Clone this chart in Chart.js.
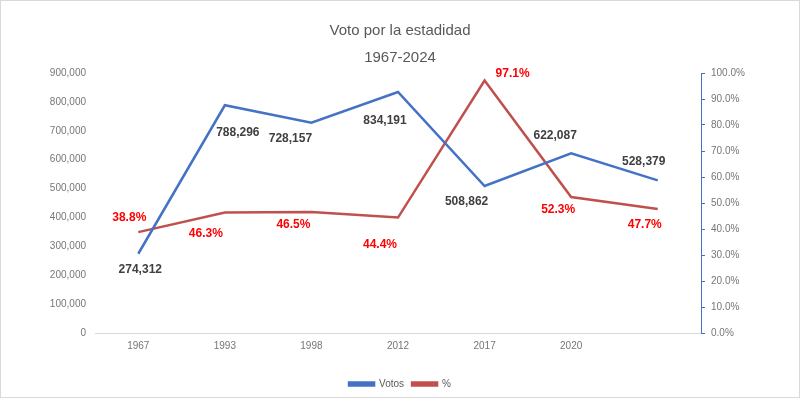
<!DOCTYPE html>
<html>
<head>
<meta charset="utf-8">
<script src="https://cdn.jsdelivr.net/npm/chart.js@4.4.1/dist/chart.umd.min.js"></script>
<style>
  html, body { margin: 0; padding: 0; background: #fff; }
  #wrap { width: 800px; height: 400px; position: relative; }
</style>
</head>
<body>
<div id="wrap"><canvas id="grafica" width="800" height="400"></canvas></div>
<script>
// datos
const anios = ['1967', '1993', '1998', '2012', '2017', '2020', ''];
const votos = [274312, 788296, 728157, 834191, 508862, 622087, 528379];
const porcentaje = [38.8, 46.3, 46.5, 44.4, 97.1, 52.3, 47.7];
const ticksVotos = [0, 900000, 100000];   // min, max, paso
const ticksPct = [0, 100, 10];

// desplazamiento de etiquetas (px) respecto al punto
const offVotos = [[2, 16], [13, 27], [-21, 16], [-13, 29], [-18, 16], [-16, -18], [-14, -19]];
const offPct = [[-9, -14], [-19, 21], [-18, 13], [-18, 27], [28, -7], [-13, 13], [-13, 16]];

const AZUL = '#4472C4';
const ROJO = '#C0504D';
const GRIS = '#595959';
const GRIS_EJE = '#767676';
const FUENTE = "'Liberation Sans', Arial, sans-serif";

function fmtMiles(v) {
  return String(v).replace(/\B(?=(\d{3})+(?!\d))/g, ',');
}

// etiquetas de datos
const etiquetas = {
  id: 'etiquetas',
  afterDatasetsDraw(chart) {
    const ctx = chart.ctx;
    ctx.save();
    ctx.font = 'bold 12px ' + FUENTE;
    ctx.textAlign = 'center';
    ctx.textBaseline = 'middle';
    chart.data.datasets.forEach((ds, i) => {
      const meta = chart.getDatasetMeta(i);
      const offs = i === 0 ? offVotos : offPct;
      ctx.fillStyle = i === 0 ? '#404040' : '#FF0000';
      meta.data.forEach((pt, j) => {
        const txt = i === 0 ? fmtMiles(ds.data[j]) : ds.data[j].toFixed(1) + '%';
        ctx.fillText(txt, pt.x + offs[j][0], pt.y + offs[j][1]);
      });
    });
    ctx.restore();
  }
};

// marco gris alrededor
const marco = {
  id: 'marco',
  afterDraw(chart) {
    const ctx = chart.ctx;
    ctx.save();
    ctx.strokeStyle = '#D9D9D9';
    ctx.lineWidth = 1;
    ctx.strokeRect(0.5, 0.5, chart.width - 1, chart.height - 3);
    ctx.restore();
  }
};

new Chart(document.getElementById('grafica').getContext('2d'), {
  type: 'line',
  data: {
    labels: anios,
    datasets: [
      { label: 'Votos', data: votos, yAxisID: 'y', borderColor: AZUL, backgroundColor: AZUL,
        borderWidth: 2.5, pointRadius: 0, tension: 0 },
      { label: '%', data: porcentaje, yAxisID: 'y1', borderColor: ROJO, backgroundColor: ROJO,
        borderWidth: 2.5, pointRadius: 0, tension: 0 }
    ]
  },
  options: {
    responsive: false,
    animation: false,
    layout: { padding: { top: 0, bottom: 1, left: 0, right: 0 } },
    plugins: {
      title: {
        display: true,
        text: ['Voto por la estadidad', '1967-2024'],
        color: GRIS,
        font: { family: FUENTE, size: 15, weight: 'normal', lineHeight: 1.8 },
        padding: { top: 17, bottom: 2 }
      },
      legend: {
        position: 'bottom',
        labels: {
          color: GRIS,
          font: { family: FUENTE, size: 10 },
          boxWidth: 25,
          boxHeight: 3,
          padding: 8
        }
      },
      tooltip: { enabled: false }
    },
    scales: {
      x: {
        offset: true,
        grid: { display: false, drawTicks: false },
        border: { display: true, color: '#D9D9D9', width: 1 },
        ticks: { color: GRIS_EJE, font: { family: FUENTE, size: 10 }, padding: 7, maxRotation: 0 },
        afterFit(s) { s.height = 38; }
      },
      y: {
        position: 'left',
        min: ticksVotos[0], max: ticksVotos[1],
        grid: { display: false },
        border: { display: false },
        ticks: { stepSize: ticksVotos[2], color: GRIS_EJE, font: { family: FUENTE, size: 10 }, padding: 1,
          callback: v => fmtMiles(v) },
        afterFit(s) { s.width = 95; }
      },
      y1: {
        position: 'right',
        min: ticksPct[0], max: ticksPct[1],
        grid: { display: true, drawOnChartArea: false, color: AZUL, tickLength: 4 },
        border: { display: true, color: AZUL, width: 1 },
        ticks: { stepSize: ticksPct[2], color: GRIS_EJE, font: { family: FUENTE, size: 10 }, padding: 6,
          callback: v => v.toFixed(1) + '%' },
        afterFit(s) { s.width = 99; }
      }
    }
  },
  plugins: [etiquetas, marco]
});
</script>
</body>
</html>
